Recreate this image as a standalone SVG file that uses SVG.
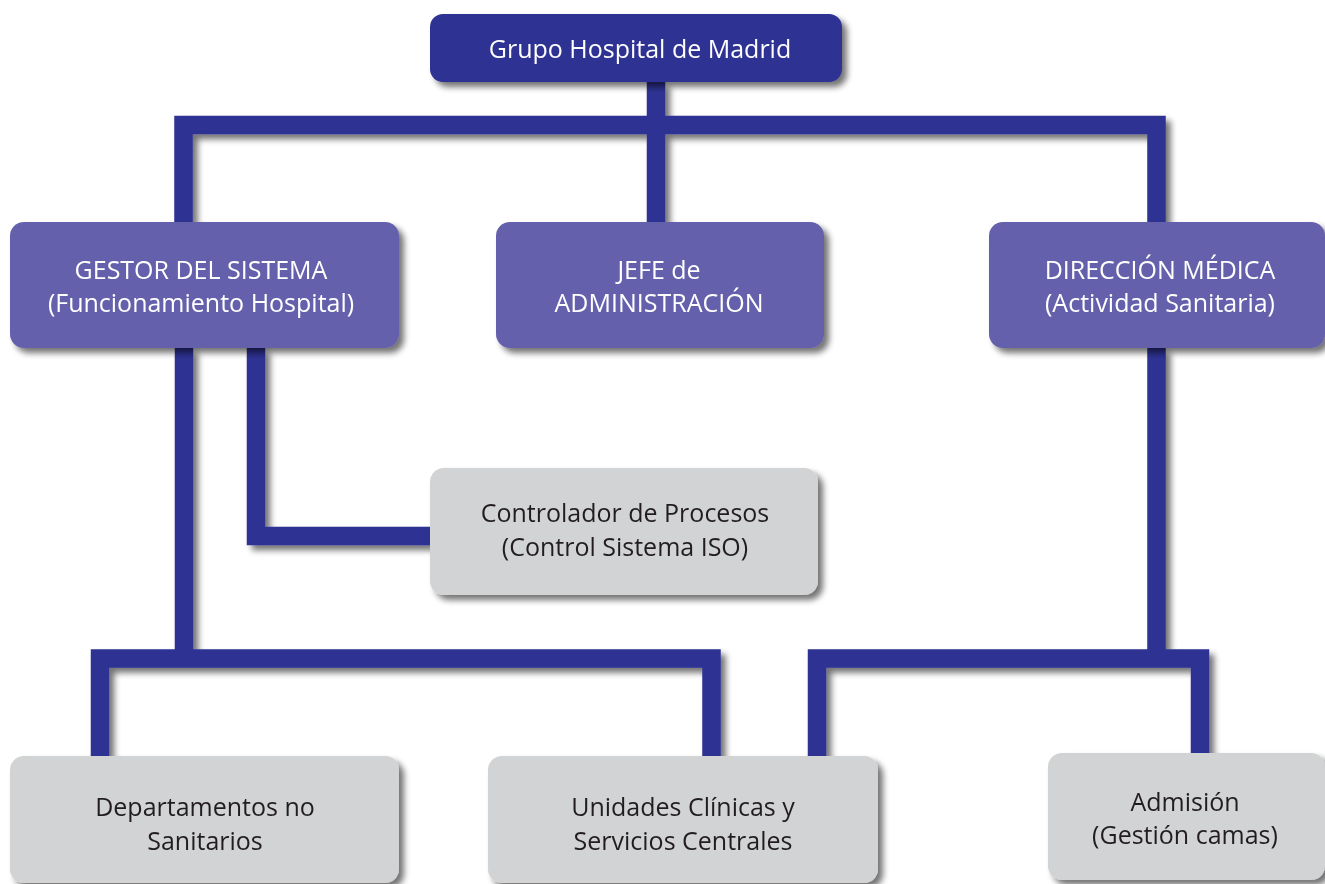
<svg xmlns="http://www.w3.org/2000/svg" width="1325" height="884" viewBox="0 0 1325 884">
<defs>
<filter id="sh" x="-10%" y="-10%" width="130%" height="130%">
<feGaussianBlur in="SourceAlpha" stdDeviation="3" result="b"/>
<feOffset in="b" dx="5" dy="5" result="o"/>
<feComponentTransfer in="o" result="s"><feFuncA type="linear" slope="0.55"/></feComponentTransfer>
<feMerge><feMergeNode in="s"/><feMergeNode in="SourceGraphic"/></feMerge>
</filter>
<style>
.c{fill:none;stroke:#2e3192;stroke-width:18.5;stroke-linejoin:miter;stroke-linecap:butt}
.top{fill:#2e3192}
.mid{fill:#6560ab}
.low{fill:#d1d3d4}
text{font-family:"Open Sans","Noto Sans","DejaVu Sans",sans-serif;font-size:25px;text-anchor:middle}
.w{fill:#ffffff}
.d{fill:#231f20}
</style>
</defs>
<rect width="1325" height="884" fill="#ffffff"/>
<g id="connectors" filter="url(#sh)">
<path class="c" d="M656,82 V125"/>
<path class="c" d="M183.5,222 V125 H1156.5 V222"/>
<path class="c" d="M656,125 V222"/>
<path class="c" d="M184,348 V658.5"/>
<path class="c" d="M100,756 V658.5 H711.5 V756"/>
<path class="c" d="M256,348 V536 H430"/>
<path class="c" d="M1156.5,348 V658.5"/>
<path class="c" d="M817,756 V658.5 H1200 V753"/>
</g>
<g id="n-grupo" filter="url(#sh)">
<rect class="top" x="430" y="14" width="412" height="68" rx="13"/>
<text class="w" x="640" y="58">Grupo Hospital de Madrid</text>
</g>
<g id="n-gestor" filter="url(#sh)">
<rect class="mid" x="10" y="222" width="389" height="126" rx="14"/>
<text class="w" x="201" y="279">GESTOR DEL SISTEMA</text>
<text class="w" x="201" y="312">(Funcionamiento Hospital)</text>
</g>
<g id="n-jefe" filter="url(#sh)">
<rect class="mid" x="496" y="222" width="328" height="126" rx="14"/>
<text class="w" x="659" y="279">JEFE de</text>
<text class="w" x="659" y="312">ADMINISTRACIÓN</text>
</g>
<g id="n-direccion" filter="url(#sh)">
<rect class="mid" x="989" y="222" width="336" height="126" rx="14"/>
<text class="w" x="1160" y="279">DIRECCIÓN MÉDICA</text>
<text class="w" x="1160" y="312">(Actividad Sanitaria)</text>
</g>
<g id="n-controlador" filter="url(#sh)">
<rect class="low" x="430" y="468" width="388" height="127" rx="14"/>
<text class="d" x="625" y="522">Controlador de Procesos</text>
<text class="d" x="625" y="556">(Control Sistema ISO)</text>
</g>
<g id="n-departamentos" filter="url(#sh)">
<rect class="low" x="10" y="756" width="389" height="127" rx="14"/>
<text class="d" x="205" y="816">Departamentos no</text>
<text class="d" x="205" y="850">Sanitarios</text>
</g>
<g id="n-unidades" filter="url(#sh)">
<rect class="low" x="488" y="756" width="390" height="127" rx="14"/>
<text class="d" x="683" y="816">Unidades Clínicas y</text>
<text class="d" x="683" y="850">Servicios Centrales</text>
</g>
<g id="n-admision" filter="url(#sh)">
<rect class="low" x="1048" y="753" width="277" height="127" rx="14"/>
<text class="d" x="1185" y="811">Admisión</text>
<text class="d" x="1185" y="844">(Gestión camas)</text>
</g>
</svg>
